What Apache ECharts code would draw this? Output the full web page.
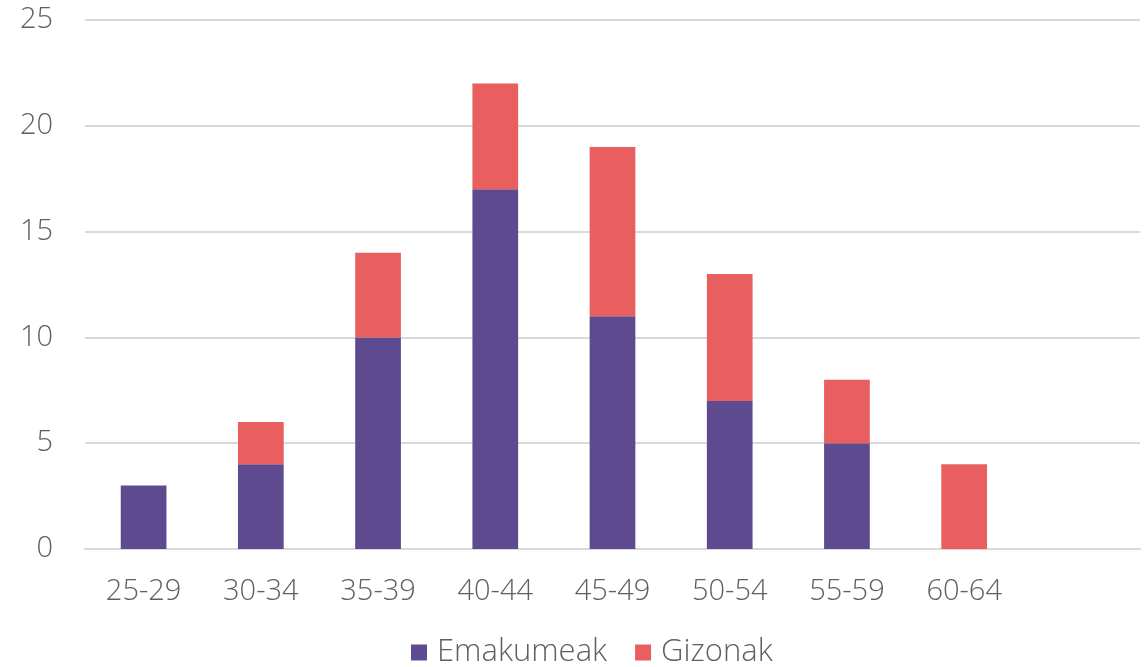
<!DOCTYPE html>
<html>
<head>
<meta charset="utf-8">
<style>
  html, body { margin: 0; padding: 0; background: #fff; }
  #chart { width: 1148px; height: 667px; }
</style>
<script src="https://cdn.jsdelivr.net/npm/echarts@6/dist/echarts.min.js"></script>
</head>
<body>
<div id="chart"></div>
<script>
// adin taldeak (azken kategoria hutsik dago)
var categories = ['25-29', '30-34', '35-39', '40-44', '45-49', '50-54', '55-59', '60-64', '']
var emakumeak = [3, 4, 10, 17, 11, 7, 5, 0, 0]
var gizonak = [0, 2, 4, 5, 8, 6, 3, 4, 0]
var seriesNames = ['Emakumeak', 'Gizonak']

var textColor = '#606060'
var fontFamily = '"Open Sans", "Noto Sans", sans-serif'

var chart = echarts.init(document.getElementById('chart'))
chart.setOption({
  animation: false,
  textStyle: { fontFamily: fontFamily, fontWeight: 300 },
  grid: {
    left: 85,
    right: 8,
    top: 20,
    bottom: 118,
    containLabel: false
  },
  legend: {
    data: seriesNames,
    bottom: -6,
    left: 406,
    itemWidth: 16,
    itemHeight: 16,
    itemGap: 28,
    icon: 'rect',
    textStyle: {
      color: textColor,
      fontSize: 31,
      fontWeight: 300,
      fontFamily: fontFamily,
      padding: [0, 0, 0, 5]
    }
  },
  xAxis: {
    type: 'category',
    data: categories,
    axisLine: { lineStyle: { color: '#d9d9d9', width: 2 } },
    axisTick: { show: false },
    axisLabel: {
      color: textColor,
      fontSize: 29,
      fontWeight: 300,
      fontFamily: fontFamily,
      margin: 28
    }
  },
  yAxis: {
    type: 'value',
    min: 0,
    max: 25,
    interval: 5,
    axisLine: { show: false },
    axisTick: { show: false },
    splitLine: { lineStyle: { color: '#d9d9d9', width: 2 } },
    axisLabel: {
      color: textColor,
      fontSize: 29,
      fontWeight: 300,
      fontFamily: fontFamily,
      margin: 32
    }
  },
  series: [
    {
      name: seriesNames[0],
      type: 'bar',
      stack: 'total',
      barWidth: '39%',
      data: emakumeak,
      itemStyle: { color: '#5e4a8e' }
    },
    {
      name: seriesNames[1],
      type: 'bar',
      stack: 'total',
      barWidth: '39%',
      data: gizonak,
      itemStyle: { color: '#e95e5e' }
    }
  ]
})
</script>
</body>
</html>
